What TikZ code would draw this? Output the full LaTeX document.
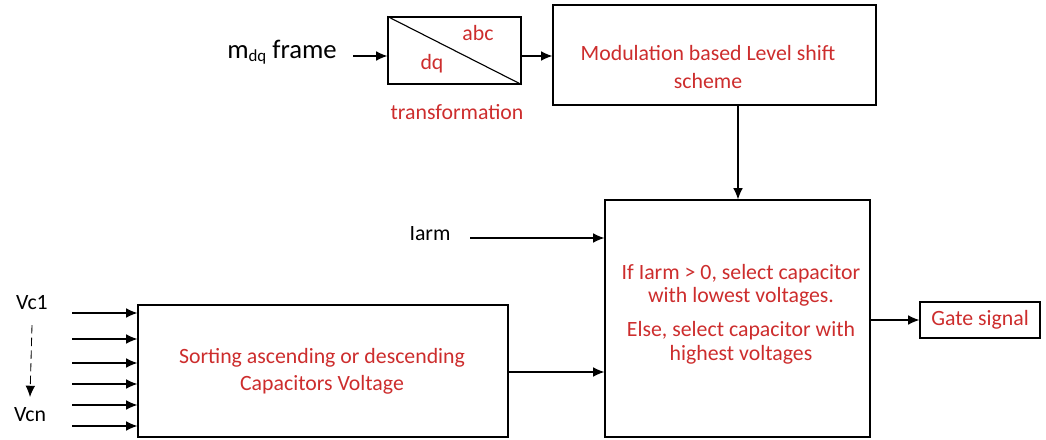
\documentclass[tikz,border=0pt]{standalone}
\usepackage{fontspec}
\setmainfont{Carlito}
\usetikzlibrary{arrows.meta}
\definecolor{lblred}{RGB}{205,45,45}
\tikzset{
  block/.style={draw, thick, fill=white, inner sep=0pt},
  redtxt/.style={text=lblred, font=\fontsize{15.5}{17}\selectfont, align=center},
  blktxt/.style={font=\fontsize{15.5}{17}\selectfont},
  arr/.style={-{Latex[length=2.8mm,width=2.4mm]}, thick}
}
\begin{document}
\begin{tikzpicture}[x=0.025cm,y=-0.025cm]
	\useasboundingbox (0,0) rectangle (1046,440);
	%blocks
	\node[block, minimum width=3.325cm, minimum height=1.675cm] (trans) at (454.5,50.5) {};
	\draw[thick] (trans.north west) -- (trans.south east);
	\node[redtxt] (abc) at (478,33) {abc};
	\node[redtxt] (dq) at (432,64) {dq};
	\node[redtxt] (transf) at (457,112) {transformation};
	\node[block, minimum width=8.075cm, minimum height=2.5cm] (modul) at (714.5,55) {};
	\node[redtxt] (modtxt) at (708,67) {Modulation based Level shift\\[0.8mm]scheme};
	\node[block, minimum width=6.625cm, minimum height=5.925cm] (select) at (737.5,318.5) {};
	\node[redtxt] (seltxt) at (741,314) {If Iarm > 0, select capacitor\\
		with lowest voltages.\\[2.4mm]Else, select capacitor with\\highest voltages};
	\node[block, minimum width=9.25cm, minimum height=3.3cm] (sortbox) at (323,371) {};
	\node[redtxt] (sorttxt) at (322,371) {Sorting ascending or descending\\[0.8mm]Capacitors Voltage};
	\node[block, minimum width=3cm, minimum height=0.9cm] (gate) at (980,320) {};
	\node[redtxt] (gatetxt) at (980,320) {Gate signal};
	%inputs
	\node[font=\fontsize{19}{21}\selectfont] (mdq) at (282,52) {m{\fontsize{12}{12}\selectfont\raisebox{-0.15em}{dq}} frame};
	\node[blktxt] (iarm) at (430,234) {Iarm};
	\node[blktxt] (vc1) at (32,303) {Vc1};
	\node[blktxt] (vcn) at (30,415) {Vcn};
	\coordinate (mdqend) at (353,56);
	\coordinate (iarmend) at (470,238);
	%draw arrows
	\draw[arr] (mdqend) -- (trans.west |- mdqend);
	\draw[arr] (trans.east |- mdqend) -- (modul.west |- mdqend);
	\draw[arr] (modul.south -| 738,0) -- (select.north -| 738,0);
	\draw[arr] (iarmend) -- (select.west |- iarmend);
	\draw[arr] (sortbox.east |- 0,372) -- (select.west |- 0,372);
	\draw[arr] (select.east |- gate.west) -- (gate.west);
	\draw[arr, semithick, dash pattern=on 6pt off 3pt] ([yshift=-2.5mm]vc1.south) -- ([yshift=1.5mm]vcn.north);
	\foreach \y [count=\i] in {313,339,363,384,405,426}{
		\coordinate (vin\i) at (72,\y);
		\draw[arr] (vin\i) -- (sortbox.west |- vin\i);
	}
\end{tikzpicture}
\end{document}
